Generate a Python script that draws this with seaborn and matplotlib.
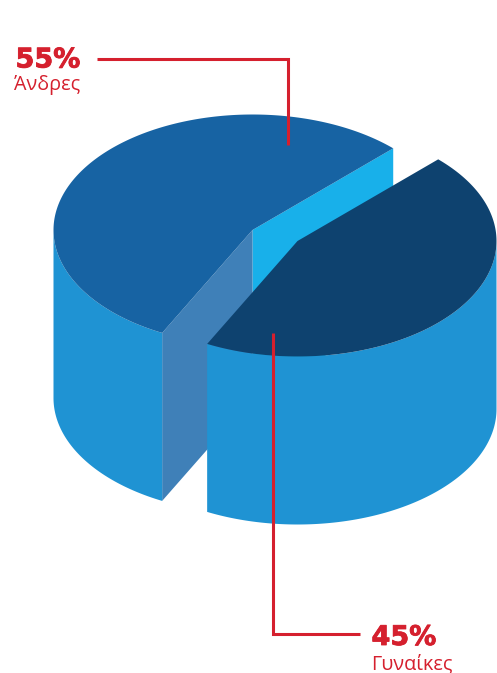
import numpy as np
import pandas as pd
import seaborn as sns
import matplotlib
matplotlib.use("Agg")
import matplotlib.pyplot as plt
import matplotlib.patheffects as pe
from matplotlib.patches import Polygon

categories = ["Άνδρες", "Γυναίκες"]
shares = [55, 45]
share_labels = ["55%", "45%"]

COL_TOP = ["#1763A3", "#0E426F"]
COL_WALL = "#1F93D3"
COL_CUT_A = "#18B0EA"
COL_CUT_B = "#3F80B8"
RED = "#D5202E"

sns.set_theme(style="white")
plt.rcParams["font.family"] = ["Open Sans", "DejaVu Sans"]

df = pd.DataFrame({"category": categories, "share": shares})
df["sweep"] = df["share"] * 3.6
df["start"] = 45 + df["sweep"].cumsum().shift(fill_value=0)
df["end"] = df["start"] + df["sweep"]
df["cx"] = [252.5, 297.5]
df["cy"] = [230, 241]

A, B, H = 199, 115.5, 168

fig = plt.figure(figsize=(4.97, 6.73), dpi=100)
ax = fig.add_axes([0, 0, 1, 1])
ax.set_xlim(0, 497)
ax.set_ylim(673, 0)
ax.axis("off")


def arc(cx, cy, t0, t1, n=200):
    t = np.radians(np.linspace(t0, t1, n))
    return np.column_stack([cx + A * np.cos(t), cy - B * np.sin(t)])


def slab(row, color_top, z, cuts):
    cx, cy, t0, t1 = row.cx, row.cy, row.start, row.end
    centre = np.array([[cx, cy]])
    drop = np.array([0, H])
    if cuts:
        p0 = arc(cx, cy, t0, t0, 1)
        p1 = arc(cx, cy, t1, t1, 1)
        for p, col in ((p0, COL_CUT_A), (p1, COL_CUT_B)):
            quad = np.vstack([centre, p, p + drop, centre + drop])
            ax.add_patch(Polygon(quad, fc=col, ec="none", zorder=z))
    # outer wall: only the part of the rim facing the viewer (180..360 degrees)
    lo, hi = max(t0, 180), min(t1, 360)
    rim = arc(cx, cy, lo, hi)
    ax.add_patch(Polygon(np.vstack([rim, (rim + drop)[::-1]]), fc=COL_WALL, ec="none", zorder=z + 0.1))
    top = np.vstack([centre, arc(cx, cy, t0, t1)])
    ax.add_patch(Polygon(top, fc=color_top, ec="none", zorder=z + 0.2))


rows = list(df.itertuples())
slab(rows[0], COL_TOP[0], 1, True)
slab(rows[1], COL_TOP[1], 2, False)

lw = 2.2
ax.plot([97, 288, 288], [59, 59, 145], color=RED, lw=lw, zorder=5, solid_joinstyle="miter", solid_capstyle="butt")
ax.plot([273, 273, 360], [333, 634, 634], color=RED, lw=lw, zorder=5, solid_joinstyle="miter", solid_capstyle="butt")

bold = dict(color=RED, fontweight="bold", family=["DejaVu Sans"], fontsize=19.5, va="center", ha="center", zorder=6,
            path_effects=[pe.withStroke(linewidth=0.6, foreground=RED)])
thin = dict(color=RED, fontweight="normal", family=["Open Sans"], fontsize=14.2, va="center", ha="center", zorder=6)
ax.text(48, 60.5, share_labels[0], **bold)
ax.text(47, 85, categories[0], **thin)
ax.text(404, 638, share_labels[1], **bold)
ax.text(412, 664, categories[1], **thin)

fig.savefig("out.png", dpi=100, facecolor="white")
